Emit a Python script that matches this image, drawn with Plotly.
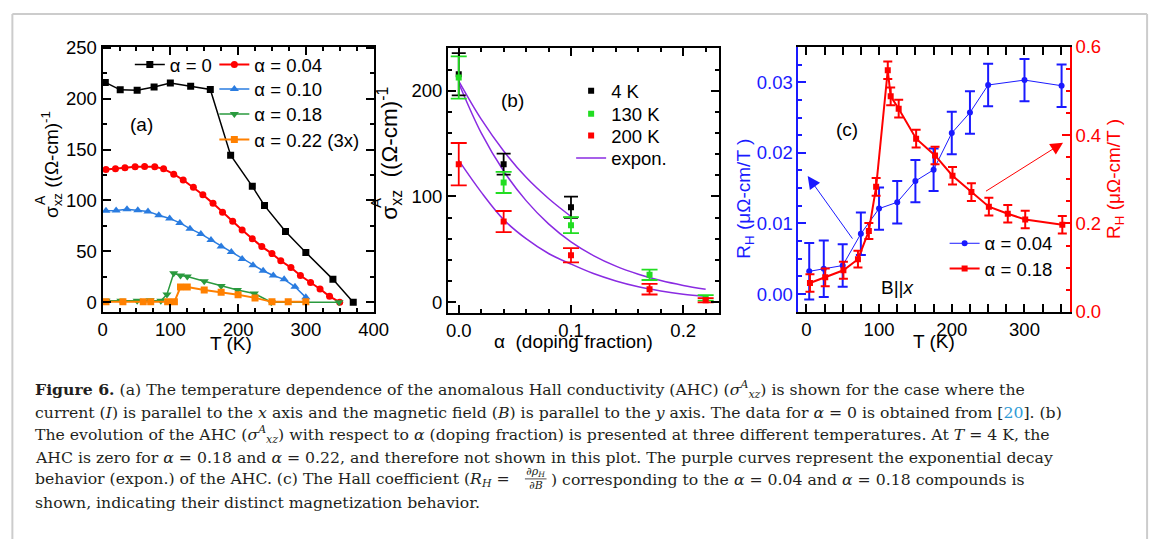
import plotly.graph_objects as go

W, H = 1167, 549

# ---------------- data: panel (a) ----------------
T_a0 = [4, 26, 51, 76, 100, 130, 159, 189, 221, 239, 270, 300, 340, 370]
S_a0 = [216, 208.7, 208.4, 211.5, 215.3, 212.2, 209, 144.4, 113.8, 94.9, 69.4, 48.9, 22.4, 0]

T_a04 = [5, 19, 33, 48, 62, 77, 90, 105, 119, 134, 148, 163, 177, 192, 206, 221, 235, 250, 263, 278, 292, 307, 321, 335, 350]
S_a04 = [130.5, 131, 132, 133, 133.3, 133, 131, 125.8, 120.1, 112.9, 105.6, 97.1, 88.3, 79.4, 70.9, 62.4, 54.6, 47.7, 40.7, 34, 26.2, 19.3, 13, 5.7, 0]

T_a10 = [5, 20, 36, 52, 67, 83, 99, 114, 129, 145, 160, 175, 190, 206, 222, 237, 252, 268, 284, 300]
S_a10 = [89.8, 90.1, 91.4, 90.4, 89.2, 85.5, 82.3, 77.9, 72.2, 67.1, 61.2, 54.6, 49.2, 42.5, 36.3, 30.9, 26.2, 22.4, 15.1, 4.7]

T_a18 = [5, 27, 51, 70, 86, 95, 105, 115, 125, 150, 175, 199, 224, 249, 349]
S_a18 = [1.3, 1.3, 1.3, 1.9, 1.3, 7.6, 28.4, 26.2, 25.2, 20.5, 15.8, 12, 8.5, 0, 0]

T_a22 = [5, 30, 60, 71, 96, 106, 115, 125, 150, 175, 200, 225, 250, 274, 300]
S_a22 = [0.3, 0.3, 0.3, 0.3, 0.3, 0.3, 14.8, 14.8, 12, 9.8, 7.3, 4.2, 0.3, 0.3, 0.3]

# ---------------- data: panel (b) ----------------
alpha_4K = [0.0, 0.04, 0.10]
sig_4K = [215.6, 130.5, 89.8]
err_4K = [20, 10, 10]

alpha_130K = [0.0, 0.04, 0.10, 0.17, 0.22]
sig_130K = [212.4, 113.2, 72.8, 25.8, 4.0]
err_130K = [20, 10, 7.6, 4.9, 2.6]

alpha_200K = [0.0, 0.04, 0.10, 0.17, 0.22]
sig_200K = [130.5, 76.2, 44.3, 12.2, 1.8]
err_200K = [20, 10, 6.8, 5, 2]

# exponential-fit curves
fit1_alpha = [0.0, 0.02, 0.04, 0.06, 0.08, 0.10]
fit1_sig = [209, 173, 143, 118, 98, 81]
fit2_alpha = [0.0, 0.02, 0.04, 0.06, 0.08, 0.10, 0.12, 0.14, 0.16, 0.18, 0.20, 0.22]
fit2_sig = [207, 160, 124, 96, 74, 57, 44, 34, 26.4, 20.4, 15.8, 12.2]
fit3_alpha = [0.0, 0.02, 0.04, 0.06, 0.08, 0.10, 0.12, 0.14, 0.16, 0.18, 0.20, 0.22]
fit3_sig = [134, 104, 78, 60, 46, 36, 27, 20, 14.5, 10.5, 7.5, 5.5]

# ---------------- data: panel (c) ----------------
T_c04 = [4, 24, 50, 75, 100, 125, 150, 175, 200, 225, 250, 300, 351]
RH_c04 = [0.00322, 0.00359, 0.00404, 0.00854, 0.0121, 0.0130, 0.0160, 0.0176, 0.0228, 0.0257, 0.0296, 0.0303, 0.0295]
RH_c04_err = [0.004, 0.004, 0.003, 0.003, 0.003, 0.003, 0.003, 0.003, 0.003, 0.003, 0.003, 0.003, 0.003]

T_c18 = [5, 26, 51, 71, 86, 96, 112, 116, 127, 151, 177, 201, 227, 251, 277, 301, 352]
RH_c18 = [0.065, 0.078, 0.094, 0.119, 0.183, 0.283, 0.547, 0.488, 0.46, 0.392, 0.354, 0.308, 0.271, 0.238, 0.222, 0.209, 0.197]
RH_c18_err = [0.02, 0.02, 0.019, 0.019, 0.018, 0.02, 0.02, 0.02, 0.02, 0.02, 0.02, 0.02, 0.02, 0.02, 0.02, 0.02, 0.02]

# arrow annotation anchors (data coords of panel c)
blue_arrow_head = (1.9, 0.0167)
blue_arrow_tail = (64.9, 0.00764)
red_arrow_head = (353, 0.383)
red_arrow_tail = (245, 0.271)

# ---------------- helpers ----------------
def fx(p):
    return p / W

def fy(p):
    return 1 - p / H

SANS = "Liberation Sans, Arial, sans-serif"
SERIF = "DejaVu Serif, Liberation Serif, serif"
FS = 18.5

BLACK = "#000000"
RED = "#ff0000"
BLUE_A = "#2a7ce0"
GREEN_A = "#2a9a3e"
ORANGE = "#ff8000"
GREEN_B = "#22dd22"
PURPLE = "#8a2be2"
BLUE_C = "#1a1aff"

fig = go.Figure()

# panel (a)
fig.add_trace(go.Scatter(x=T_a0, y=S_a0, mode="lines+markers", name="α = 0",
                         line=dict(color=BLACK, width=1.5), marker=dict(symbol="square", size=7, color=BLACK),
                         xaxis="x", yaxis="y", legend="legend"))
fig.add_trace(go.Scatter(x=T_a04, y=S_a04, mode="lines+markers", name="α = 0.04",
                         line=dict(color=RED, width=2), marker=dict(symbol="circle", size=7, color=RED),
                         xaxis="x", yaxis="y", legend="legend2"))
fig.add_trace(go.Scatter(x=T_a10, y=S_a10, mode="lines+markers", name="α = 0.10",
                         line=dict(color=BLUE_A, width=1.5), marker=dict(symbol="triangle-up", size=8, color=BLUE_A),
                         xaxis="x", yaxis="y", legend="legend3"))
fig.add_trace(go.Scatter(x=T_a18, y=S_a18, mode="lines+markers", name="α = 0.18",
                         line=dict(color=GREEN_A, width=1.5), marker=dict(symbol="triangle-down", size=8, color=GREEN_A),
                         xaxis="x", yaxis="y", legend="legend4"))
fig.add_trace(go.Scatter(x=T_a22, y=S_a22, mode="lines+markers", name="α = 0.22 (3x)",
                         line=dict(color=ORANGE, width=2), marker=dict(symbol="square", size=7, color=ORANGE),
                         xaxis="x", yaxis="y", legend="legend5"))

# panel (b)
fig.add_trace(go.Scatter(x=fit1_alpha, y=fit1_sig, mode="lines", line=dict(color=PURPLE, width=1.5, shape="spline"),
                         showlegend=False, xaxis="x2", yaxis="y2"))
fig.add_trace(go.Scatter(x=fit2_alpha, y=fit2_sig, mode="lines", name="expon.",
                         line=dict(color=PURPLE, width=1.5, shape="spline"),
                         xaxis="x2", yaxis="y2", legend="legend9"))
fig.add_trace(go.Scatter(x=fit3_alpha, y=fit3_sig, mode="lines", line=dict(color=PURPLE, width=1.5, shape="spline"),
                         showlegend=False, xaxis="x2", yaxis="y2"))
fig.add_trace(go.Scatter(x=alpha_4K, y=sig_4K, mode="markers", name="4 K",
                         marker=dict(symbol="square", size=6, color=BLACK),
                         error_y=dict(type="data", array=err_4K, color=BLACK, thickness=1.8, width=7),
                         xaxis="x2", yaxis="y2", legend="legend6"))
fig.add_trace(go.Scatter(x=alpha_130K, y=sig_130K, mode="markers", name="130 K",
                         marker=dict(symbol="square", size=6, color=GREEN_B),
                         error_y=dict(type="data", array=err_130K, color=GREEN_B, thickness=1.8, width=8),
                         xaxis="x2", yaxis="y2", legend="legend7"))
fig.add_trace(go.Scatter(x=alpha_200K, y=sig_200K, mode="markers", name="200 K",
                         marker=dict(symbol="square", size=6, color=RED),
                         error_y=dict(type="data", array=err_200K, color=RED, thickness=1.8, width=8),
                         xaxis="x2", yaxis="y2", legend="legend8"))

# panel (c)
fig.add_trace(go.Scatter(x=T_c04, y=RH_c04, mode="lines+markers", name="α = 0.04",
                         line=dict(color=BLUE_C, width=1), marker=dict(symbol="circle", size=6, color=BLUE_C),
                         error_y=dict(type="data", array=RH_c04_err, color=BLUE_C, thickness=2, width=5),
                         xaxis="x3", yaxis="y3", legend="legend10"))
fig.add_trace(go.Scatter(x=T_c18, y=RH_c18, mode="lines+markers", name="α = 0.18",
                         line=dict(color=RED, width=2), marker=dict(symbol="square", size=6, color=RED),
                         error_y=dict(type="data", array=RH_c18_err, color=RED, thickness=2, width=4.5),
                         xaxis="x3", yaxis="y4", legend="legend11"))


def axis(domain, rng, dtick, minor, color=BLACK, mirror="allticks", fmt=None, anchor=None, **kw):
    d = dict(domain=domain, range=rng, dtick=dtick, tick0=0, showline=True, linecolor=color, linewidth=2,
             ticks="inside", ticklen=8, tickwidth=1.5, tickcolor=color, mirror=mirror,
             showgrid=False, zeroline=False, tickfont=dict(family=SANS, size=FS, color=color),
             minor=dict(dtick=minor, ticks="inside", ticklen=4, tickwidth=1.5, tickcolor=color, showgrid=False))
    if fmt:
        d["tickformat"] = fmt
    if anchor:
        d["anchor"] = anchor
    d.update(kw)
    return d


layout = dict(
    width=W, height=H, margin=dict(l=0, r=0, t=0, b=0),
    paper_bgcolor="white", plot_bgcolor="white",
    xaxis=axis([fx(99.3), fx(375)], [0, 400], 100, 25, anchor="y"),
    yaxis=axis([fy(313), fy(37)], [-9.7, 251.2], 50, 25, anchor="x"),
    xaxis2=axis([fx(450.7), fx(726.7)], [-0.0096, 0.2321], 0.1, 0.02, fmt=".1f", anchor="y2"),
    yaxis2=axis([fy(314), fy(38)], [-10.3, 240.8], 100, 20, anchor="x2"),
    xaxis3=axis([fx(807.3), fx(1083.3)], [-10.8, 362.2], 100, 25, anchor="y3"),
    yaxis3=axis([fy(312.7), fy(37.3)], [-0.0025, 0.035], 0.01, 0.0025, color=BLUE_C, mirror=False,
                fmt=".2f", anchor="x3"),
    yaxis4=axis([fy(312.7), fy(37.3)], [0, 0.6], 0.2, 0.05, color=RED, mirror=False, fmt=".1f",
                anchor="x3", overlaying="y3", side="right"),
)

# legends: (name, legend-box left px, center py)
legend_specs = [
    ("legend", 127, 56),
    ("legend2", 213, 56),
    ("legend3", 213, 81.7),
    ("legend4", 213, 107.7),
    ("legend5", 213, 134),
    ("legend6", 576, 83.3),
    ("legend7", 576, 107.3),
    ("legend8", 576, 130),
    ("legend9", 576, 153.3),
    ("legend10", 956, 242),
    ("legend11", 956, 268.3),
]
for name, lx, ty in legend_specs:
    layout[name] = dict(x=fx(lx), y=fy(ty), xanchor="left", yanchor="middle",
                        bgcolor="rgba(0,0,0,0)", borderwidth=0, itemwidth=30,
                        font=dict(family=SANS, size=FS, color=BLACK))

fig.update_layout(**layout)

ann = []

def text_ann(txt, x, y, size=19, color=BLACK, angle=0, family=SANS, xanchor="center", yanchor="middle"):
    ann.append(dict(text=txt, x=fx(x), y=fy(y), xref="paper", yref="paper", showarrow=False,
                    font=dict(family=family, size=size, color=color), textangle=angle,
                    xanchor=xanchor, yanchor=yanchor, borderpad=0))

# axis titles
text_ann("T (K)", 230, 346)
text_ann("α  (doping fraction)", 578, 344)
text_ann("T (K)", 945, 344)
text_ann("σ<sub>xz</sub> ((Ω-cm)<sup>-1</sup>", 48, 160, angle=-90)
text_ann("A", 35, 196, size=14, angle=-90)
text_ann("σ<sub>xz</sub>  ((Ω-cm)<sup>-1</sup>", 391, 148, size=22.5, angle=-90)
text_ann("A", 377, 200, size=15, angle=-90)
text_ann("R<sub>H</sub> (μΩ-cm/T )", 752, 195, color=BLUE_C, angle=-90)
text_ann("R<sub>H</sub> (μΩ-cm/T )", 1130, 175, color=RED, angle=-90)

# panel labels
text_ann("(a)", 139.3, 118.3)
text_ann("(b)", 516.7, 93.3)
text_ann("(c)", 856.7, 123.3)
text_ann("B||<i>x</i>", 909, 287)

# arrows in panel (c)
ann.append(dict(x=blue_arrow_head[0], y=blue_arrow_head[1], ax=blue_arrow_tail[0], ay=blue_arrow_tail[1],
                xref="x3", yref="y3", axref="x3", ayref="y3", showarrow=True, arrowhead=2,
                arrowsize=2.5, arrowwidth=1, arrowcolor=BLUE_C, text=""))
ann.append(dict(x=red_arrow_head[0], y=red_arrow_head[1], ax=red_arrow_tail[0], ay=red_arrow_tail[1],
                xref="x3", yref="y4", axref="x3", ayref="y4", showarrow=True, arrowhead=2,
                arrowsize=2.5, arrowwidth=1, arrowcolor=RED, text=""))

# caption
CAP = "#231f20"
CFS = 15.7
CX = 29
cap_lines = [
    (394, "<b>Figure 6.</b> (a) The temperature dependence of the anomalous Hall conductivity (AHC) (<i>σ</i><sup><i>A</i></sup><sub><i>xz</i></sub>) is shown for the case where the"),
    (417.5, "current (<i>I</i>) is parallel to the <i>x</i> axis and the magnetic field (<i>B</i>) is parallel to the <i>y</i> axis. The data for <i>α</i> = 0 is obtained from [<span style='color:#2e9bd6'>20</span>]. (b)"),
    (440, "The evolution of the AHC (<i>σ</i><sup><i>A</i></sup><sub><i>xz</i></sub>) with respect to <i>α</i> (doping fraction) is presented at three different temperatures. At <i>T</i> = 4 K, the"),
    (464, "AHC is zero for <i>α</i> = 0.18 and <i>α</i> = 0.22, and therefore not shown in this plot. The purple curves represent the exponential decay"),
    (511, "shown, indicating their distinct magnetization behavior."),
]
for yy, t in cap_lines:
    text_ann(t, CX, yy, size=CFS, color=CAP, family=SERIF, xanchor="left")
text_ann("behavior (expon.) of the AHC. (c) The Hall coefficient (<i>R<sub>H</sub></i> = ", CX, 487.5,
         size=CFS, color=CAP, family=SERIF, xanchor="left")
text_ann("<i>∂ρ<sub>H</sub></i>", 540, 479.5, size=11, color=CAP, family=SERIF)
text_ann("<i>∂B</i>", 540, 493.5, size=11, color=CAP, family=SERIF)
text_ann(") corresponding to the <i>α</i> = 0.04 and <i>α</i> = 0.18 compounds is", 555, 487.5,
         size=CFS, color=CAP, family=SERIF, xanchor="left")

fig.update_layout(annotations=ann)

GRAY = "#cccccc"
shapes = [
    dict(type="line", xref="paper", yref="paper", x0=fx(529), x1=fx(551), y0=fy(486.5), y1=fy(486.5),
         line=dict(color=CAP, width=0.8)),
    dict(type="line", xref="paper", yref="paper", x0=fx(7.5), x1=fx(7.5), y0=fy(3), y1=0,
         line=dict(color=GRAY, width=2)),
    dict(type="line", xref="paper", yref="paper", x0=fx(7.5), x1=fx(1162), y0=fy(3), y1=fy(3),
         line=dict(color=GRAY, width=2)),
    dict(type="line", xref="paper", yref="paper", x0=fx(1162), x1=fx(1162), y0=fy(3), y1=0,
         line=dict(color=GRAY, width=2)),
]
fig.update_layout(shapes=shapes)

fig.write_html("out.html", config={"displayModeBar": False},
               post_script="document.body.style.margin='0px';document.body.style.overflow='hidden';")
